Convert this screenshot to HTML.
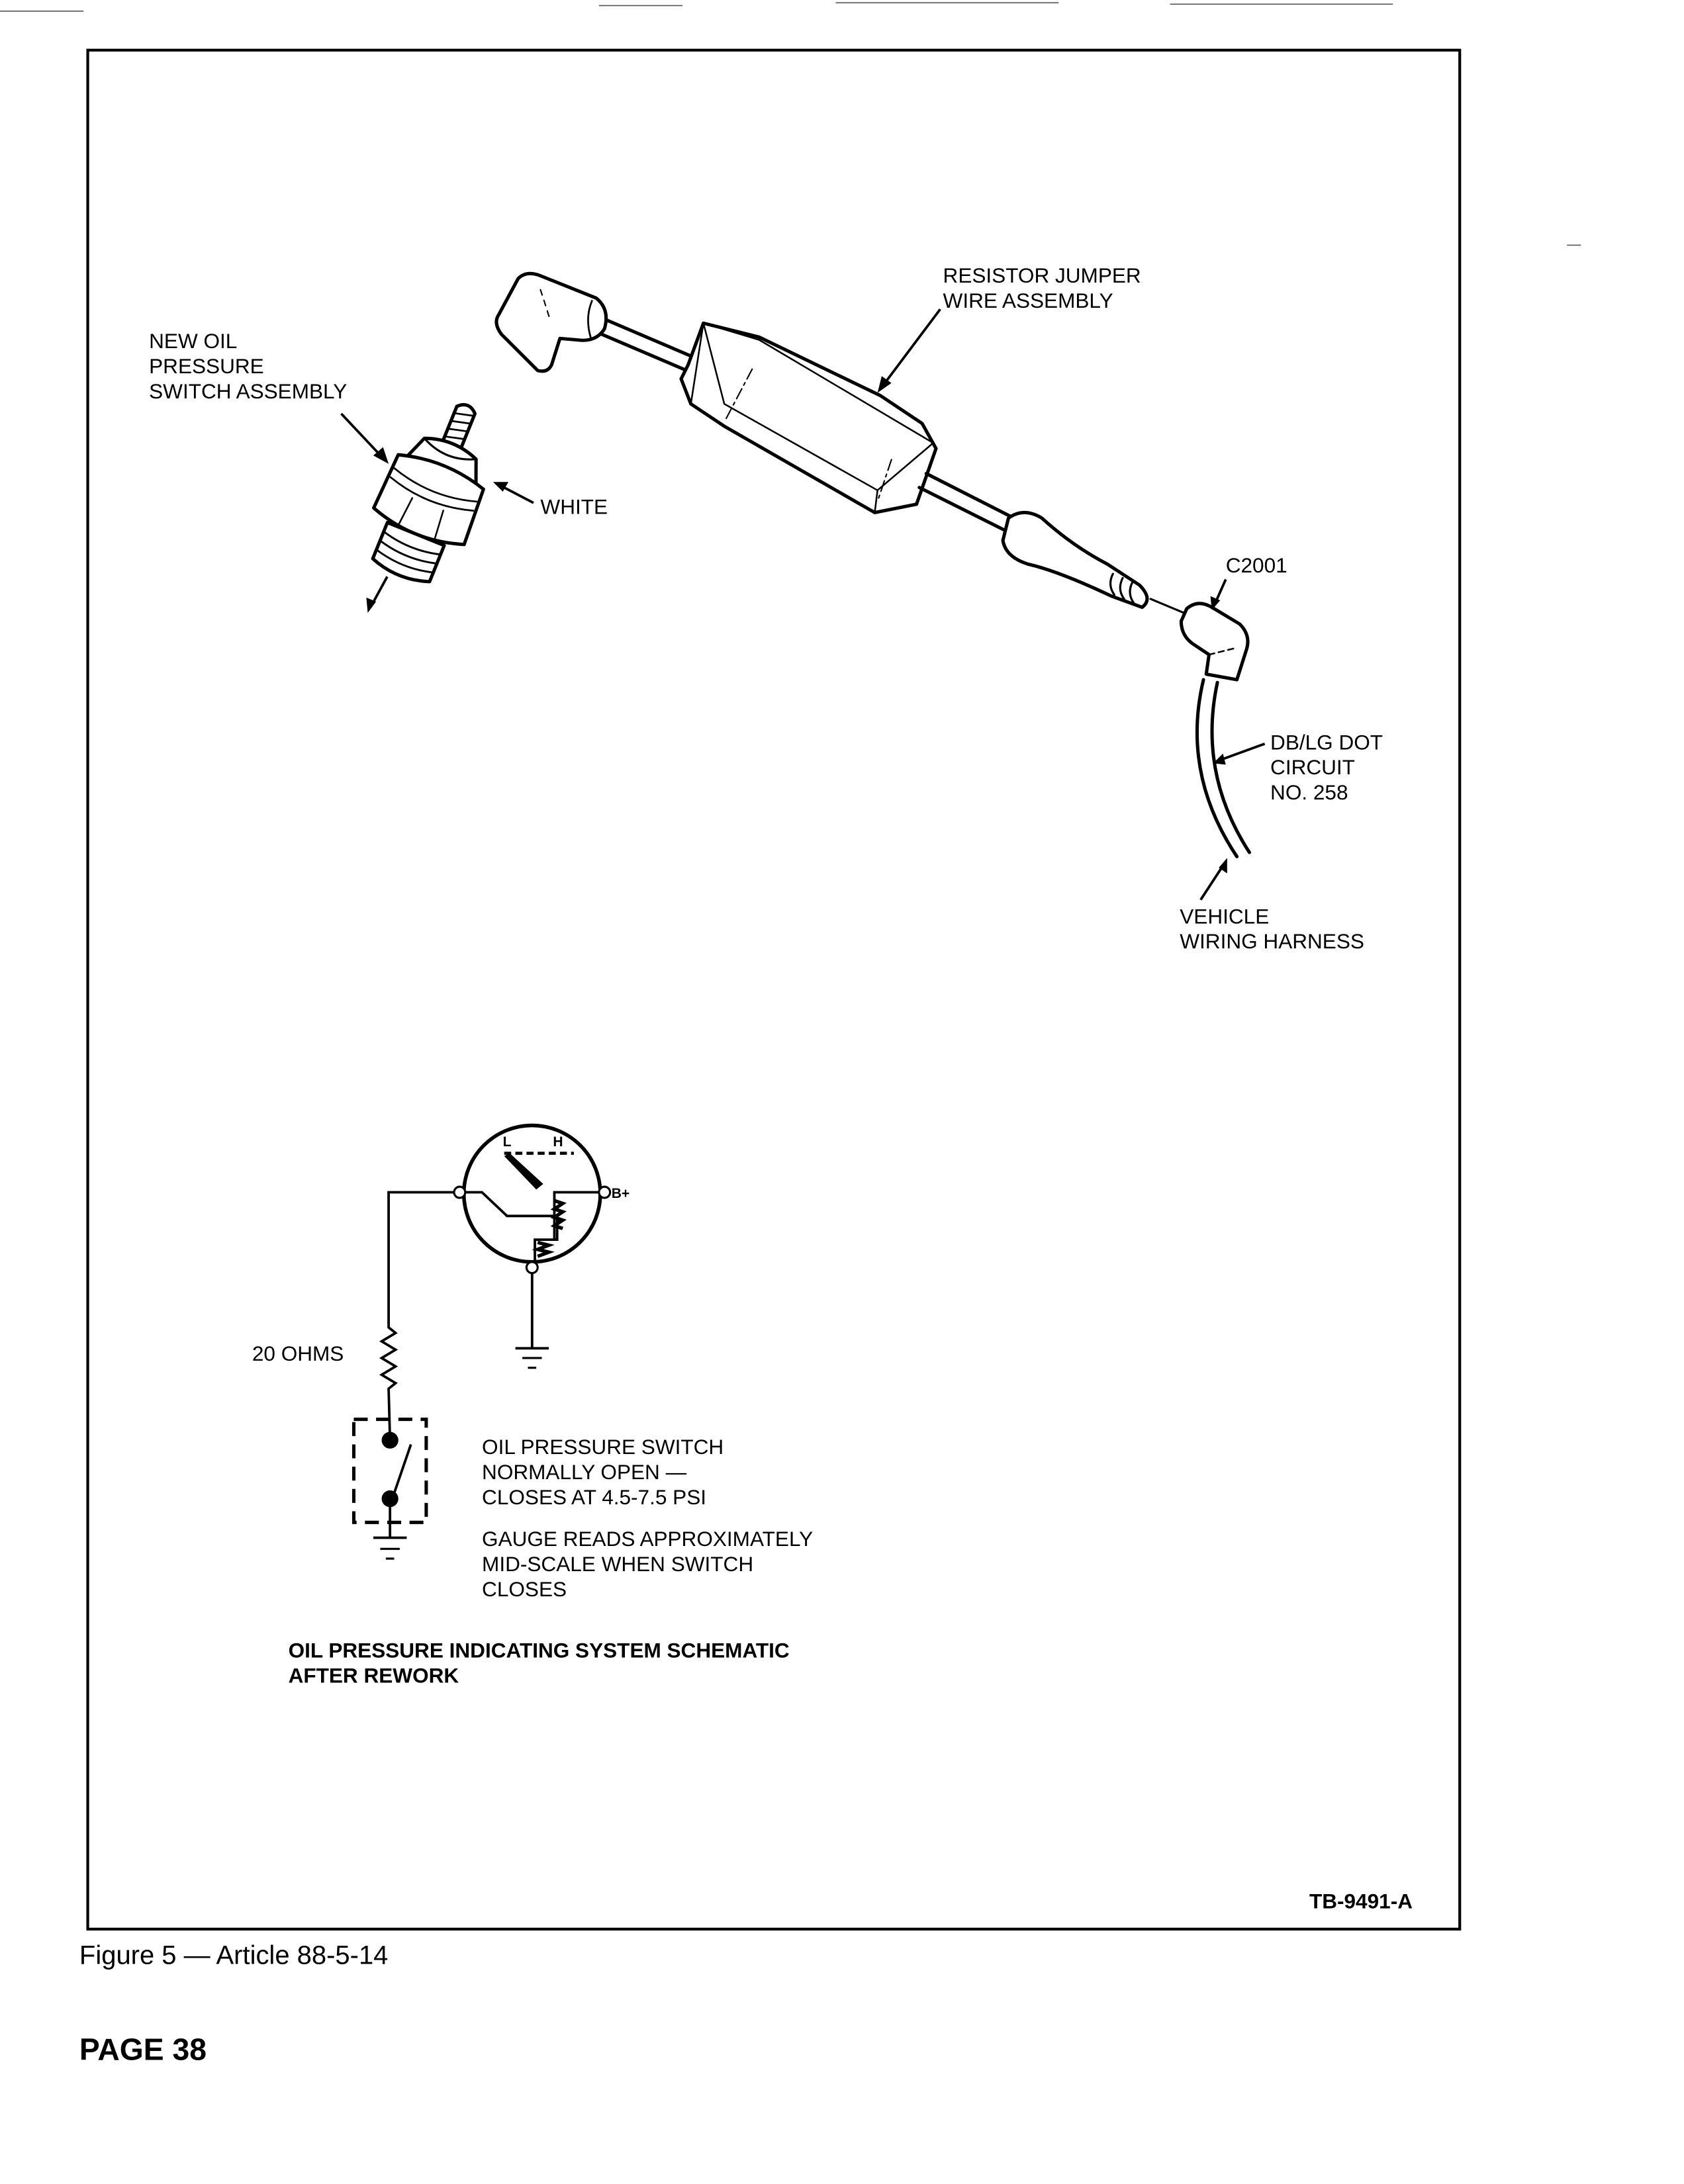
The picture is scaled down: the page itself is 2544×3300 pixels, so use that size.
<!DOCTYPE html>
<html><head><meta charset="utf-8"><style>
html,body{margin:0;padding:0;background:#fff;}
svg{display:block;}
text{font-family:"Liberation Sans",sans-serif;fill:#000;}
</style></head><body>
<svg width="2544" height="3300" viewBox="0 0 1209 1568" preserveAspectRatio="none" xmlns="http://www.w3.org/2000/svg">
<rect width="1209" height="1568" fill="#fff"/>
<g stroke="#555" stroke-width="0.8">
<line x1="0" y1="8" x2="60" y2="8"/><line x1="430" y1="4" x2="490" y2="4"/>
<line x1="600" y1="2" x2="760" y2="2"/><line x1="840" y1="3" x2="1000" y2="3"/>
<line x1="1125" y1="176" x2="1135" y2="176"/>
</g>
<rect x="63" y="36" width="985" height="1349" fill="none" stroke="#000" stroke-width="2"/>

<g fill="none" stroke="#000" stroke-width="2.4" stroke-linejoin="round" stroke-linecap="round">
<path d="M372,200 Q378,194 388,198 L428,214 Q438,222 434,236 Q428,246 414,244 L402,243 L396,262 Q393,268 386,266 L360,240 Q354,232 358,226 Z" fill="#fff"/>
<path d="M425,216 Q420,228 424,242" stroke-width="1.3"/>
<path d="M388,208 Q392,220 395,230" stroke-width="1" stroke-dasharray="4 4"/>
<line x1="436" y1="230" x2="497" y2="256"/><line x1="432" y1="240" x2="493" y2="266"/>
<path d="M505,232 L545,242 L632,284 L662,304 L672,322 L658,362 L628,368 L520,306 L496,290 L489,272 L494,262 Z" fill="#fff"/>
<path d="M505,232 L496,290 M505,232 L545,244 L670,318 L630,352 L628,368 M630,352 L520,290 L505,232" stroke-width="1.2"/>
<line x1="540" y1="265" x2="520" y2="303" stroke-width="1" stroke-dasharray="8 3 2 3"/>
<line x1="640" y1="330" x2="630" y2="360" stroke-width="1" stroke-dasharray="8 3 2 3"/>
<line x1="665" y1="340" x2="728" y2="372"/><line x1="660" y1="350" x2="722" y2="381"/>
<path d="M724,372 Q735,364 748,372 Q770,392 795,405 L818,420 Q828,430 820,436 L798,428 Q760,410 738,405 Q722,400 720,388 Z" fill="#fff"/>
<path d="M799,412 Q795,420 800,427 M806,415 Q802,423 807,430 M813,418 Q809,426 814,433" stroke-width="1.5"/>
<line x1="826" y1="430" x2="850" y2="440" stroke-width="1.5"/>
<path d="M852,437 Q860,430 870,436 L890,448 Q898,456 895,466 L888,488 L866,484 L868,470 L856,462 Q848,456 848,446 Z" fill="#fff"/>
<path d="M868,470 L888,465" stroke-width="1.2" stroke-dasharray="4 3"/>
<path d="M864,488 Q848,555 888,615"/><path d="M874,490 Q860,555 897,612"/>
<!-- oil pressure switch (upright, rotated) -->
<g transform="rotate(22 312 350)">
<path d="M305,318 L305,290 Q312,283 319,290 L319,318 Z" fill="#fff"/>
<path d="M306,295 L318,292 M306,301 L318,298 M306,307 L318,304 M306,313 L318,310" stroke-width="1.3"/>
<path d="M292,320 Q312,312 332,320 L342,345 L282,345 Z" fill="#fff"/>
<path d="M292,320 Q312,330 332,320" stroke-width="1.5"/>
<path d="M279,338 Q312,328 345,338 L347,380 Q312,392 277,380 Z" fill="#fff"/>
<path d="M280,348 Q312,358 344,348 M280,355 Q312,365 344,355" stroke-width="1.3"/>
<path d="M300,363 L298,385 M324,363 L326,385" stroke-width="1.2"/>
<path d="M290,386 L334,386 L334,414 Q312,422 290,414 Z" fill="#fff"/>
<path d="M290,393 Q312,399 334,393 M290,400 Q312,406 334,400 M290,407 Q312,413 334,407" stroke-width="1.4"/>
</g>
</g>
<g stroke="#000" stroke-width="1.8" fill="none">
<line x1="675" y1="222" x2="633" y2="278"/>
<line x1="880" y1="416" x2="872" y2="434"/>
<line x1="908" y1="534" x2="875" y2="546"/>
<line x1="862" y1="646" x2="879" y2="620"/>
<line x1="245" y1="297" x2="276" y2="330"/>
<line x1="383" y1="361" x2="358" y2="348"/>
<line x1="278" y1="414" x2="266" y2="436"/>
</g>
<g fill="#000">
<polygon points="630,282 633,270 640,275"/>
<polygon points="870,438 869,428 876,431"/>
<polygon points="871,548 878,541 880,549"/>
<polygon points="881,616 881,627 875,623"/>
<polygon points="279,333 268,327 275,321"/>
<polygon points="354,346 365,346 361,353"/>
<polygon points="264,440 263,429 270,432"/>
</g>
<g fill="none" stroke="#000" stroke-width="1.8">
<circle cx="382" cy="857" r="49" stroke-width="2.6"/>
<polyline points="328,856 279,856 279,953 284,957 274,963 284,969 274,975 284,981 274,987 284,993 279,997 280,1034"/>
<line x1="280" y1="1076" x2="280" y2="1104"/>
<line x1="268" y1="1104" x2="292" y2="1104"/><line x1="273" y1="1112" x2="287" y2="1112" stroke-width="1.5"/><line x1="277" y1="1119" x2="283" y2="1119" stroke-width="1.5"/>
<line x1="382" y1="912" x2="382" y2="968"/>
<line x1="370" y1="968" x2="394" y2="968"/><line x1="375" y1="975" x2="389" y2="975" stroke-width="1.5"/><line x1="379" y1="982" x2="385" y2="982" stroke-width="1.5"/>
<line x1="362" y1="828" x2="412" y2="828" stroke-width="2.2" stroke-dasharray="5 3"/>
<polyline points="332,856 346,856 364,873 400,873 400,890 384,890 384,906"/>
<polyline points="432,856 398,856 398,890"/>
<path d="M398,862 l6,2 l-6,4 l6,2 l-6,4 l6,2 l-6,4 l6,2" stroke-width="2.5"/>
<path d="M386,892 l8,2 l-8,3 l8,2 l-8,3" stroke-width="2.5"/>
<line x1="283" y1="1072" x2="295" y2="1037"/>
<path d="M254,1019 L306,1019 L306,1093 L254,1093 Z" stroke-width="2.4" stroke-dasharray="10 6"/>
</g>
<g fill="#fff" stroke="#000" stroke-width="1.5">
<circle cx="330" cy="856" r="4"/><circle cx="434" cy="856" r="4"/><circle cx="382" cy="910" r="4"/>
</g>
<polygon points="362,830 366,828 390,850 385,854" fill="#000"/>
<circle cx="280" cy="1034" r="6" fill="#000"/><circle cx="280" cy="1076" r="6" fill="#000"/>
<g font-size="10" font-weight="bold"><text x="361" y="823">L</text><text x="397" y="823">H</text><text x="439" y="860">B+</text></g>
<g font-size="15">
<text x="677" y="203">RESISTOR JUMPER</text><text x="677" y="221">WIRE ASSEMBLY</text>
<text x="107" y="250">NEW OIL</text><text x="107" y="268">PRESSURE</text><text x="107" y="286">SWITCH ASSEMBLY</text>
<text x="388" y="369">WHITE</text>
<text x="880" y="411">C2001</text>
<text x="912" y="538">DB/LG DOT</text><text x="912" y="556">CIRCUIT</text><text x="912" y="574">NO. 258</text>
<text x="847" y="663">VEHICLE</text><text x="847" y="681">WIRING HARNESS</text>
<text x="181" y="977">20 OHMS</text>
<text x="346" y="1044">OIL PRESSURE SWITCH</text><text x="346" y="1062">NORMALLY OPEN —</text><text x="346" y="1080">CLOSES AT 4.5-7.5 PSI</text>
<text x="346" y="1110">GAUGE READS APPROXIMATELY</text><text x="346" y="1128">MID-SCALE WHEN SWITCH</text><text x="346" y="1146">CLOSES</text>
</g>
<g font-size="15" font-weight="bold">
<text x="207" y="1190">OIL PRESSURE INDICATING SYSTEM SCHEMATIC</text><text x="207" y="1208">AFTER REWORK</text>
<text x="940" y="1370">TB-9491-A</text>
</g>
<text x="57" y="1410" font-size="19">Figure 5 — Article 88-5-14</text>
<text x="57" y="1479" font-size="22" font-weight="bold">PAGE 38</text>
</svg>
</body></html>
